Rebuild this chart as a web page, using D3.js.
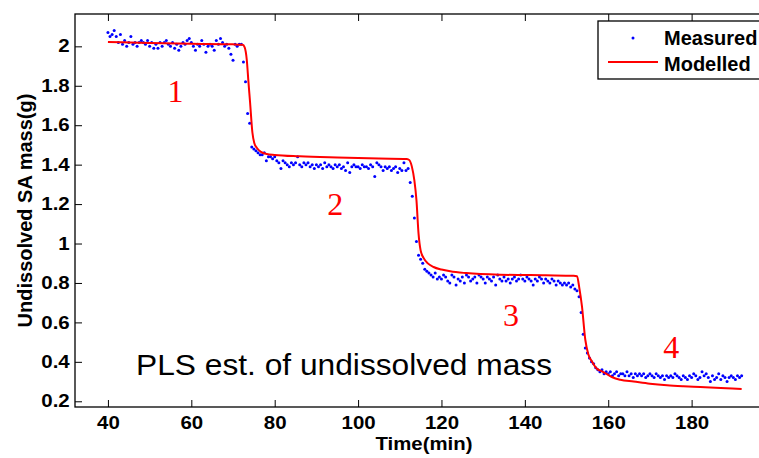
<!DOCTYPE html>
<html>
<head>
<meta charset="utf-8">
<script src="https://cdn.jsdelivr.net/npm/d3@7"></script>
<style>
    body { margin: 0; background: #fff; }
    svg { display: block; font-family: "Liberation Sans", Arial, sans-serif; }
    .tick text { font-size: 17.5px; font-weight: bold; fill: #000; }
    .tick line { stroke: #000; }
</style>
</head>
<body>
<div id="graph"></div>
<script>
const width = 759
const height = 458

// plot box (right side runs past the edge of the picture, as in the original)
const box = ({ left: 75, top: 14, right: 775, bottom: 407 })
// the original figure is stretched sideways a little, so is its axis text
const stretch = 1.17

// measured PLS estimate, one sample every half minute starting at 40 min
const measuredStart = 40
const measuredStep = 0.5
const measuredMass = [
    2.07, 2.05, 2.06, 2.08, 2.05, 2.02, 2.06, 2.01, 2.03, 2.00,
    2.02, 2.05, 2.01, 2.02, 2.00, 2.02, 2.03, 2.02, 2.01, 2.03,
    2.00, 2.02, 1.99, 2.01, 1.99, 2.02, 2.00, 2.02, 2.03, 2.01,
    2.00, 2.02, 1.99, 2.01, 1.98, 2.00, 2.02, 2.01, 2.03, 2.04,
    2.02, 2.00, 1.98, 2.01, 2.00, 2.03, 2.01, 1.97, 2.00, 2.01,
    2.00, 1.98, 2.03, 2.01, 2.04, 2.02, 2.00, 2.01, 1.99, 1.96,
    1.93, 2.01, 2.00, 2.01, 2.01, 1.92, 1.82, 1.66, 1.61, 1.49,
    1.48, 1.47, 1.46, 1.45, 1.45, 1.46, 1.42, 1.44, 1.44, 1.43,
    1.44, 1.42, 1.41, 1.38, 1.42, 1.41, 1.40, 1.39, 1.41, 1.40,
    1.41, 1.44, 1.40, 1.39, 1.41, 1.40, 1.41, 1.39, 1.40, 1.38,
    1.40, 1.39, 1.40, 1.38, 1.41, 1.39, 1.40, 1.39, 1.38, 1.40,
    1.39, 1.40, 1.38, 1.39, 1.37, 1.41, 1.36, 1.39, 1.40, 1.39,
    1.39, 1.38, 1.40, 1.39, 1.39, 1.38, 1.40, 1.39, 1.34, 1.41,
    1.40, 1.39, 1.37, 1.39, 1.38, 1.39, 1.37, 1.38, 1.39, 1.36,
    1.38, 1.37, 1.41, 1.37, 1.38, 1.31, 1.24, 1.13, 1.01, 0.94,
    0.92, 0.90, 0.87, 0.86, 0.85, 0.84, 0.83, 0.85, 0.82, 0.83,
    0.82, 0.84, 0.83, 0.81, 0.80, 0.84, 0.83, 0.79, 0.82, 0.81,
    0.83, 0.80, 0.84, 0.83, 0.81, 0.82, 0.83, 0.80, 0.84, 0.83,
    0.82, 0.80, 0.83, 0.82, 0.81, 0.83, 0.79, 0.84, 0.82, 0.81,
    0.83, 0.81, 0.82, 0.80, 0.82, 0.83, 0.81, 0.82, 0.84, 0.82,
    0.81, 0.83, 0.82, 0.81, 0.79, 0.82, 0.81, 0.83, 0.82, 0.80,
    0.82, 0.81, 0.80, 0.82, 0.81, 0.79, 0.81, 0.80, 0.79, 0.80,
    0.79, 0.80, 0.78, 0.79, 0.77, 0.76, 0.73, 0.65, 0.54, 0.47,
    0.445, 0.42, 0.40, 0.39, 0.37, 0.36, 0.35, 0.36, 0.34, 0.35,
    0.34, 0.35, 0.33, 0.34, 0.35, 0.33, 0.34, 0.34, 0.33, 0.35,
    0.33, 0.34, 0.32, 0.34, 0.33, 0.34, 0.33, 0.34, 0.32, 0.33,
    0.34, 0.33, 0.32, 0.34, 0.33, 0.32, 0.33, 0.31, 0.33, 0.32,
    0.33, 0.32, 0.34, 0.33, 0.32, 0.31, 0.33, 0.32, 0.31, 0.33,
    0.32, 0.34, 0.33, 0.31, 0.32, 0.35, 0.33, 0.34, 0.32, 0.30,
    0.33, 0.31, 0.32, 0.34, 0.31, 0.33, 0.32, 0.30, 0.32, 0.33,
    0.32, 0.31, 0.33, 0.32, 0.33
]

// model curve
const modelTime = [40, 50, 60, 70, 72.3, 72.8, 73.3, 73.7, 74.1, 74.65, 75.1, 75.7, 76.7, 78.1, 80, 86, 95, 105,
    111.7, 112.3, 112.9, 113.5, 114.0, 114.5, 115.0, 115.7, 116.8, 118.1, 120, 122.1, 126, 134.1, 145, 151.7,
    152.5, 153.1, 153.7, 154.5, 155.2, 156.1, 157.3, 158.5, 159.7, 161, 162.9, 166.1, 170, 174.1, 178, 182.1, 187, 192]
const modelMass = [2.022, 2.017, 2.013, 2.010, 2.008, 1.995, 1.932, 1.82, 1.714, 1.563, 1.51, 1.486, 1.465, 1.454, 1.449, 1.442, 1.436, 1.431,
    1.429, 1.423, 1.39, 1.32, 1.22, 1.05, 0.965, 0.927, 0.898, 0.881, 0.868, 0.859, 0.850, 0.842, 0.839, 0.837,
    0.834, 0.77, 0.681, 0.512, 0.44, 0.402, 0.365, 0.352, 0.338, 0.322, 0.309, 0.300, 0.289, 0.281, 0.276, 0.272, 0.267, 0.262]

const xTicks = [40, 60, 80, 100, 120, 140, 160, 180]
const yTicks = [0.2, 0.4, 0.6, 0.8, 1, 1.2, 1.4, 1.6, 1.8, 2]

const stageLabels = ["1", "2", "3", "4"]
const stageTime = [56.2, 94.5, 136.7, 175.1]
const stageMass = [1.716, 1.146, 0.58, 0.419]

const measured = measuredMass.map((m, i) => ({ x: measuredStart + i * measuredStep, y: m }))
const model = modelTime.map((t, i) => ({ x: t, y: modelMass[i] }))

const svg = d3.select("#graph")
    .append("svg")
    .attr("width", width)
    .attr("height", height)

svg.append("rect")
    .attr("width", width)
    .attr("height", height)
    .attr("fill", "#fff")

const x = d3.scaleLinear()
    .domain([32.1, 200])
    .range([box.left, box.right])
const y = d3.scaleLinear()
    .domain([0.171, 2.164])
    .range([box.bottom, box.top])

const tickLen = 7
const yFormat = d => String(+d.toFixed(1))

// axes: ticks point into the box, labels only on bottom and left
svg.append("g")
    .attr("transform", `translate(0,${box.bottom})`)
    .call(d3.axisBottom(x).tickValues(xTicks).tickSize(-tickLen).tickPadding(10))
    .call(g => g.select(".domain").remove())
    .call(g => g.selectAll(".tick text").attr("transform", `scale(${stretch},1)`))
svg.append("g")
    .attr("transform", `translate(0,${box.top})`)
    .call(d3.axisTop(x).tickValues(xTicks).tickSize(-tickLen).tickFormat(""))
    .call(g => g.select(".domain").remove())
svg.append("g")
    .attr("transform", `translate(${box.left},0)`)
    .call(d3.axisLeft(y).tickValues(yTicks).tickSize(-tickLen).tickPadding(4.5).tickFormat(yFormat))
    .call(g => g.select(".domain").remove())
    .call(g => g.selectAll(".tick text").attr("transform", `scale(${stretch},1)`))

svg.append("rect")
    .attr("x", box.left)
    .attr("y", box.top)
    .attr("width", box.right - box.left)
    .attr("height", box.bottom - box.top)
    .attr("fill", "none")
    .attr("stroke", "#000")
    .attr("stroke-width", 1.3)

// measured points
svg.append("g")
    .selectAll("circle")
    .data(measured)
    .join("circle")
    .attr("cx", d => x(d.x))
    .attr("cy", d => y(d.y))
    .attr("r", 1.5)
    .attr("fill", "#0000ff")

// model line
const line = d3.line()
    .x(d => x(d.x))
    .y(d => y(d.y))
    .curve(d3.curveMonotoneX)
svg.append("path")
    .datum(model)
    .attr("fill", "none")
    .attr("stroke", "#ff0000")
    .attr("stroke-width", 2)
    .attr("stroke-linejoin", "round")
    .attr("d", line)

// stage numbers
svg.append("g")
    .selectAll("text")
    .data(stageLabels)
    .join("text")
    .text(d => d)
    .attr("x", (d, i) => x(stageTime[i]))
    .attr("y", (d, i) => y(stageMass[i]))
    .attr("text-anchor", "middle")
    .attr("fill", "#ff0000")
    .style("font-family", "'Liberation Serif', 'Times New Roman', serif")
    .style("font-size", "32px")

svg.append("text")
    .text("PLS est. of undissolved mass")
    .attr("x", 136)
    .attr("y", 375)
    .attr("textLength", 416)
    .attr("lengthAdjust", "spacingAndGlyphs")
    .style("font-size", "29px")
    .attr("fill", "#000")

// axis titles
svg.append("text")
    .text("Time(min)")
    .attr("x", 424)
    .attr("y", 450)
    .attr("text-anchor", "middle")
    .attr("textLength", 97)
    .attr("lengthAdjust", "spacingAndGlyphs")
    .style("font-size", "17.5px")
    .style("font-weight", "bold")
svg.append("text")
    .text("Undissolved SA mass(g)")
    .attr("transform", "rotate(-90)")
    .attr("x", -(box.top + box.bottom) / 2)
    .attr("y", 32)
    .attr("text-anchor", "middle")
    .style("font-size", "20px")
    .style("font-weight", "bold")

// legend
const legend = svg.append("g")
legend.append("rect")
    .attr("x", 598)
    .attr("y", 21)
    .attr("width", 180)
    .attr("height", 58)
    .attr("fill", "#fff")
    .attr("stroke", "#000")
    .attr("stroke-width", 1.3)
legend.append("circle")
    .attr("cx", 633)
    .attr("cy", 38)
    .attr("r", 1.5)
    .attr("fill", "#0000ff")
legend.append("line")
    .attr("x1", 608)
    .attr("x2", 658)
    .attr("y1", 62)
    .attr("y2", 62)
    .attr("stroke", "#ff0000")
    .attr("stroke-width", 2)
legend.append("text")
    .text("Measured")
    .attr("x", 664)
    .attr("y", 44.5)
    .style("font-size", "20px")
    .style("font-weight", "bold")
legend.append("text")
    .text("Modelled")
    .attr("x", 664)
    .attr("y", 71)
    .style("font-size", "20px")
    .style("font-weight", "bold")
</script>
</body>
</html>
